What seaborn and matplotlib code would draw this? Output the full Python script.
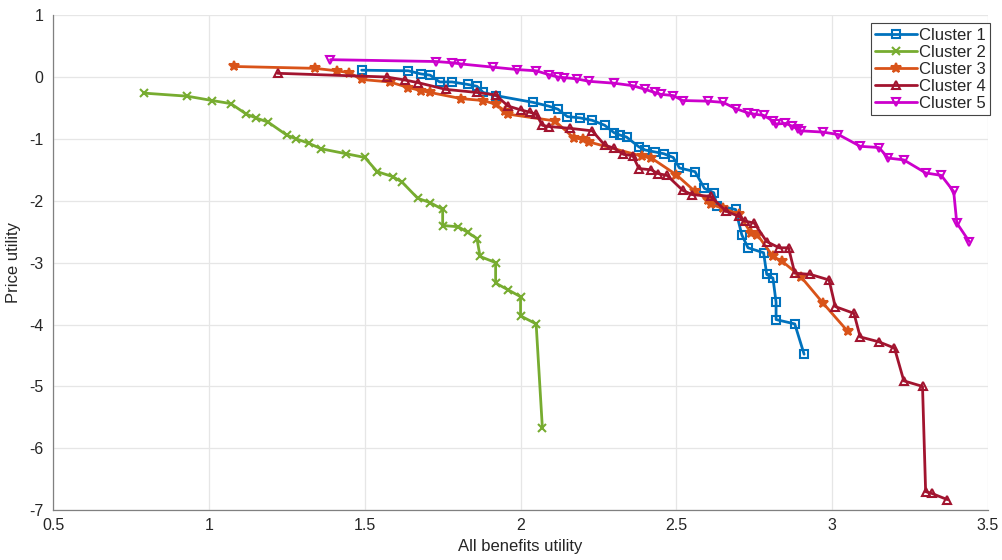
import pandas as pd
import matplotlib.pyplot as plt
import seaborn as sns

# values
c1_x = [1.49, 1.64, 1.68, 1.71, 1.74, 1.78, 1.83, 1.86, 1.88, 1.92, 2.04, 2.09, 2.12, 2.15, 2.19, 2.23,
        2.27, 2.30, 2.32, 2.34, 2.38, 2.40, 2.43, 2.46, 2.49, 2.51, 2.56, 2.59, 2.62, 2.63, 2.69, 2.71,
        2.73, 2.78, 2.79, 2.81, 2.82, 2.82, 2.88, 2.91]
c1_y = [0.11, 0.10, 0.05, 0.03, -0.08, -0.08, -0.12, -0.15, -0.25, -0.30, -0.41, -0.47, -0.52, -0.64, -0.66, -0.70,
        -0.78, -0.90, -0.94, -0.97, -1.13, -1.18, -1.21, -1.24, -1.30, -1.47, -1.53, -1.80, -1.87, -2.08, -2.14, -2.55,
        -2.76, -2.84, -3.19, -3.25, -3.64, -3.92, -3.99, -4.48]

c2_x = [0.79, 0.93, 1.01, 1.07, 1.12, 1.15, 1.19, 1.25, 1.28, 1.32, 1.36, 1.44, 1.50, 1.54, 1.59, 1.62,
        1.67, 1.71, 1.75, 1.75, 1.80, 1.83, 1.86, 1.87, 1.92, 1.92, 1.96, 2.00, 2.00, 2.05, 2.07]
c2_y = [-0.26, -0.31, -0.38, -0.43, -0.60, -0.66, -0.73, -0.94, -1.00, -1.07, -1.16, -1.24, -1.30, -1.53, -1.61, -1.70,
        -1.96, -2.03, -2.14, -2.40, -2.42, -2.51, -2.61, -2.90, -3.00, -3.33, -3.44, -3.55, -3.86, -3.99, -5.67]

c3_x = [1.08, 1.34, 1.41, 1.45, 1.49, 1.58, 1.64, 1.68, 1.71, 1.81, 1.88, 1.92, 1.95, 1.96, 2.11, 2.17,
        2.20, 2.22, 2.39, 2.42, 2.50, 2.56, 2.60, 2.61, 2.65, 2.70, 2.74, 2.76, 2.81, 2.84, 2.90, 2.97, 3.05]
c3_y = [0.17, 0.14, 0.10, 0.07, -0.04, -0.08, -0.17, -0.22, -0.25, -0.35, -0.38, -0.44, -0.55, -0.60, -0.71, -0.98,
        -1.01, -1.05, -1.28, -1.31, -1.58, -1.85, -1.98, -2.06, -2.12, -2.22, -2.52, -2.55, -2.90, -2.98, -3.23, -3.65, -4.11]

c4_x = [1.22, 1.57, 1.63, 1.67, 1.76, 1.86, 1.92, 1.96, 2.00, 2.03, 2.05, 2.07, 2.09, 2.16, 2.23, 2.27,
        2.30, 2.33, 2.36, 2.38, 2.42, 2.44, 2.47, 2.52, 2.55, 2.61, 2.66, 2.70, 2.72, 2.75, 2.79, 2.83,
        2.86, 2.88, 2.93, 2.99, 3.01, 3.07, 3.09, 3.15, 3.20, 3.23, 3.29, 3.30, 3.32, 3.37]
c4_y = [0.06, 0.00, -0.05, -0.09, -0.20, -0.25, -0.29, -0.47, -0.53, -0.57, -0.60, -0.78, -0.80, -0.83, -0.87, -1.10,
        -1.15, -1.25, -1.27, -1.48, -1.50, -1.56, -1.59, -1.83, -1.90, -1.93, -2.17, -2.25, -2.33, -2.36, -2.66, -2.76,
        -2.76, -3.17, -3.19, -3.28, -3.71, -3.82, -4.20, -4.28, -4.38, -4.91, -5.00, -6.70, -6.73, -6.83]

c5_x = [1.39, 1.73, 1.78, 1.81, 1.91, 1.99, 2.05, 2.09, 2.12, 2.14, 2.18, 2.22, 2.30, 2.36, 2.40, 2.43,
        2.45, 2.49, 2.52, 2.60, 2.65, 2.69, 2.73, 2.75, 2.78, 2.81, 2.82, 2.85, 2.87, 2.89, 2.90, 2.97,
        3.02, 3.09, 3.15, 3.18, 3.23, 3.30, 3.35, 3.39, 3.40, 3.44]
c5_y = [0.28, 0.25, 0.23, 0.21, 0.16, 0.12, 0.10, 0.04, 0.00, -0.01, -0.03, -0.07, -0.10, -0.14, -0.20, -0.25,
        -0.28, -0.30, -0.38, -0.39, -0.41, -0.51, -0.58, -0.60, -0.62, -0.71, -0.76, -0.75, -0.79, -0.84, -0.87, -0.89,
        -0.93, -1.12, -1.14, -1.31, -1.34, -1.55, -1.59, -1.85, -2.36, -2.66]

names = ["Cluster 1", "Cluster 2", "Cluster 3", "Cluster 4", "Cluster 5"]
xs = [c1_x, c2_x, c3_x, c4_x, c5_x]
ys = [c1_y, c2_y, c3_y, c4_y, c5_y]
colors = ["#0072BD", "#77AC30", "#D95319", "#A2142F", "#CC00CC"]
markers = ["s", "x", "*", "^", "v"]
filled = [False, True, True, False, False]

frames = []
for n, x, y in zip(names, xs, ys):
    frames.append(pd.DataFrame({"benefit": x, "price": y, "cluster": n}))
df = pd.concat(frames, ignore_index=True)

sns.set_style("whitegrid")
plt.rcParams["font.family"] = ["Liberation Sans", "DejaVu Sans"]
plt.rcParams["axes.unicode_minus"] = False

fig = plt.figure(figsize=(10.03, 5.6), dpi=100)
ax = fig.add_axes([0.053, 0.089, 0.932, 0.884])

for n, col, mk, fl in zip(names, colors, markers, filled):
    sub = df[df["cluster"] == n]
    sns.lineplot(data=sub, x="benefit", y="price", sort=False, estimator=None, ax=ax,
                 color=col, linewidth=2, marker=mk, markersize=6 if mk != "*" else 7,
                 markerfacecolor=col if fl else "none", markeredgecolor=col,
                 markeredgewidth=1.5, label=n)

ax.set_xlim(0.5, 3.5)
ax.set_ylim(-7, 1)
ax.set_xticks([0.5, 1, 1.5, 2, 2.5, 3, 3.5])
ax.set_xticklabels(["0.5", "1", "1.5", "2", "2.5", "3", "3.5"])
ax.set_yticks(range(-7, 2))
ax.set_xlabel("All benefits utility", fontsize=12, color="#262626", labelpad=4)
ax.set_ylabel("Price utility", fontsize=12, color="#262626", labelpad=6)
ax.tick_params(labelsize=11.5, colors="#262626", direction="in", length=4, pad=7)
ax.tick_params(axis="x", pad=6)
ax.grid(True, color="#e6e6e6", linewidth=0.9)
for s in ["top", "right"]:
    ax.spines[s].set_visible(False)
for s in ["left", "bottom"]:
    ax.spines[s].set_color("#808080")
    ax.spines[s].set_linewidth(0.9)

leg = ax.legend(loc="upper right", fontsize=12, fancybox=False, framealpha=1,
                edgecolor="#444444", borderpad=0.25, labelspacing=0.12, handlelength=2.5,
                handletextpad=0.15, borderaxespad=0.2, bbox_to_anchor=(1.006, 0.99))
leg.get_frame().set_linewidth(0.8)

fig.savefig("out.png", dpi=100)
